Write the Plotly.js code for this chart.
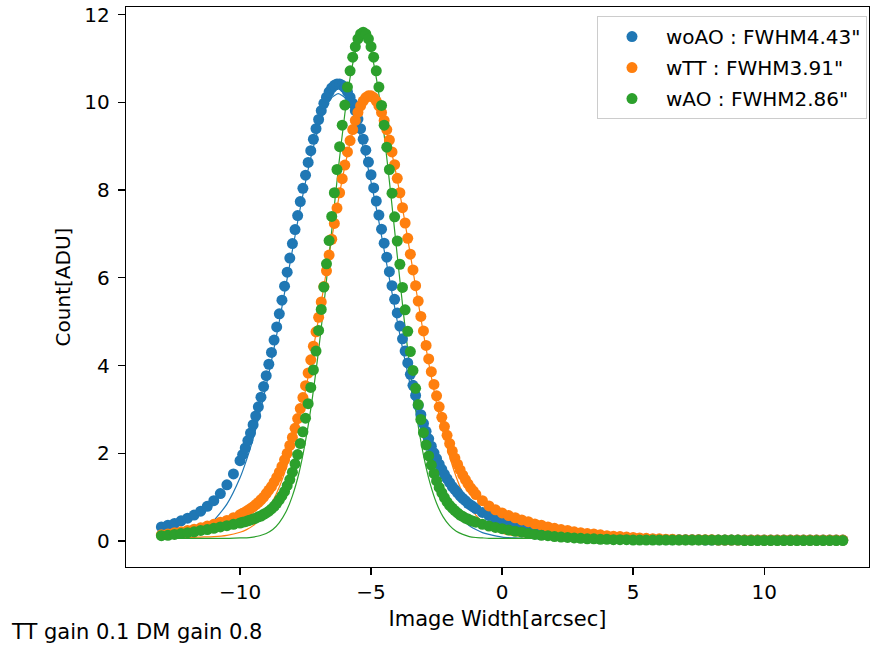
<!DOCTYPE html>
<html>
<head>
<meta charset="utf-8">
<script src="https://cdn.plot.ly/plotly-3.0.1.min.js"></script>
<style>
  html, body { margin: 0; padding: 0; background: #ffffff; }
  #chart { width: 871px; height: 647px; }
</style>
</head>
<body>
<div id="chart"></div>
<script>
// ---- data ----
const seriesNames = ['woAO : FWHM4.43"', 'wTT : FWHM3.91"', 'wAO : FWHM2.86"'];
const seriesColors = ['#1f77b4', '#ff7f0e', '#2ca02c'];

const widthArcsec = [
  -13, -12.75, -12.5, -12.25, -12, -11.75, -11.5, -11.25, -11, -10.75, -10.5, -10.25,
  -10, -9.9, -9.8, -9.7, -9.6, -9.5, -9.4, -9.3, -9.2, -9.1,
  -9, -8.9, -8.8, -8.7, -8.6, -8.5, -8.4, -8.3, -8.2, -8.1,
  -8, -7.9, -7.8, -7.7, -7.6, -7.5, -7.4, -7.3, -7.2, -7.1,
  -7, -6.9, -6.8, -6.7, -6.6, -6.5, -6.4, -6.3, -6.2, -6.1,
  -6, -5.9, -5.8, -5.7, -5.6, -5.5, -5.4, -5.3, -5.2, -5.1,
  -5, -4.9, -4.8, -4.7, -4.6, -4.5, -4.4, -4.3, -4.2, -4.1,
  -4, -3.9, -3.8, -3.7, -3.6, -3.5, -3.4, -3.3, -3.2, -3.1,
  -3, -2.9, -2.8, -2.7, -2.6, -2.5, -2.4, -2.3, -2.2, -2.1,
  -2, -1.9, -1.8, -1.7, -1.6, -1.5, -1.4, -1.3, -1.2, -1.1,
  -1,
  -0.75, -0.5, -0.25, 0, 0.25, 0.5, 0.75, 1, 1.25, 1.5, 1.75, 2, 2.25, 2.5,
  2.75, 3, 3.25, 3.5, 3.75, 4, 4.25, 4.5, 4.75, 5, 5.25, 5.5, 5.75, 6,
  6.25, 6.5, 6.75, 7, 7.25, 7.5, 7.75, 8, 8.25, 8.5, 8.75, 9, 9.25, 9.5,
  9.75, 10, 10.25, 10.5, 10.75, 11, 11.25, 11.5, 11.75, 12, 12.25, 12.5, 12.75, 13
];

const countWoAO = [
  0.32, 0.36, 0.40, 0.46, 0.52, 0.59, 0.68, 0.79, 0.92, 1.08, 1.28, 1.53,
  1.83, 1.97, 2.12, 2.29, 2.46, 2.65, 2.85, 3.06, 3.28, 3.52,
  3.77, 4.03, 4.30, 4.58, 4.88, 5.18, 5.49, 5.81, 6.13, 6.45,
  6.78, 7.10, 7.42, 7.74, 8.04, 8.34, 8.63, 8.90, 9.16, 9.40,
  9.61, 9.81, 9.98, 10.12, 10.24, 10.33, 10.39, 10.42, 10.42, 10.39,
  10.33, 10.24, 10.12, 9.98, 9.81, 9.62, 9.40, 9.16, 8.91, 8.64,
  8.35, 8.05, 7.75, 7.43, 7.11, 6.79, 6.47, 6.14, 5.82, 5.51,
  5.20, 4.90, 4.61, 4.33, 4.06, 3.80, 3.55, 3.32, 3.09, 2.88,
  2.68, 2.50, 2.33, 2.16, 2.01, 1.88, 1.75, 1.63, 1.52, 1.42,
  1.33, 1.24, 1.17, 1.10, 1.03, 0.97, 0.92, 0.86, 0.82, 0.78,
  0.74,
  0.65, 0.58, 0.51, 0.46, 0.41, 0.37, 0.33, 0.29, 0.26, 0.23, 0.20, 0.18, 0.16, 0.14,
  0.12, 0.11, 0.10, 0.09, 0.08, 0.07, 0.06, 0.06, 0.05, 0.05, 0.04, 0.04, 0.04, 0.03,
  0.03, 0.03, 0.03, 0.03, 0.03, 0.03, 0.02, 0.02, 0.02, 0.02, 0.02, 0.02, 0.02, 0.02,
  0.02, 0.02, 0.02, 0.02, 0.02, 0.02, 0.02, 0.02, 0.02, 0.02, 0.02, 0.02, 0.02, 0.02
];

const countWTT = [
  0.14, 0.16, 0.19, 0.21, 0.24, 0.27, 0.30, 0.34, 0.38, 0.43, 0.47, 0.53,
  0.60, 0.63, 0.66, 0.70, 0.74, 0.78, 0.83, 0.88, 0.94, 1.00,
  1.08, 1.16, 1.24, 1.34, 1.45, 1.57, 1.70, 1.85, 2.00, 2.18,
  2.36, 2.57, 2.79, 3.02, 3.27, 3.54, 3.83, 4.13, 4.44, 4.77,
  5.10, 5.45, 5.80, 6.16, 6.52, 6.88, 7.24, 7.59, 7.94, 8.26,
  8.57, 8.87, 9.13, 9.38, 9.59, 9.77, 9.92, 10.03, 10.11, 10.15,
  10.15, 10.11, 10.03, 9.92, 9.77, 9.59, 9.38, 9.14, 8.87, 8.58,
  8.27, 7.94, 7.60, 7.25, 6.90, 6.54, 6.18, 5.82, 5.47, 5.12,
  4.79, 4.46, 4.15, 3.86, 3.57, 3.31, 3.06, 2.82, 2.61, 2.41,
  2.22, 2.05, 1.89, 1.75, 1.62, 1.50, 1.40, 1.30, 1.21, 1.14,
  1.06,
  0.92, 0.80, 0.71, 0.64, 0.58, 0.53, 0.48, 0.44, 0.39, 0.36, 0.32, 0.29, 0.26, 0.24,
  0.21, 0.19, 0.17, 0.16, 0.14, 0.12, 0.11, 0.10, 0.09, 0.08, 0.07, 0.06, 0.05, 0.05,
  0.04, 0.04, 0.03, 0.03, 0.03, 0.03, 0.03, 0.03, 0.02, 0.02, 0.02, 0.02, 0.02, 0.02,
  0.02, 0.02, 0.02, 0.02, 0.02, 0.02, 0.02, 0.02, 0.02, 0.02, 0.02, 0.02, 0.02, 0.02
];

const countWAO = [
  0.12, 0.13, 0.15, 0.17, 0.19, 0.21, 0.24, 0.26, 0.29, 0.32, 0.35, 0.38,
  0.41, 0.43, 0.44, 0.46, 0.48, 0.50, 0.52, 0.55, 0.57, 0.61,
  0.64, 0.68, 0.73, 0.79, 0.86, 0.94, 1.03, 1.13, 1.26, 1.40,
  1.57, 1.76, 1.97, 2.22, 2.49, 2.80, 3.13, 3.50, 3.90, 4.33,
  4.80, 5.28, 5.79, 6.32, 6.85, 7.40, 7.94, 8.47, 8.99, 9.48,
  9.94, 10.35, 10.72, 11.03, 11.27, 11.45, 11.56, 11.60, 11.56, 11.45,
  11.27, 11.03, 10.72, 10.35, 9.93, 9.48, 8.98, 8.47, 7.93, 7.39,
  6.84, 6.31, 5.78, 5.27, 4.78, 4.32, 3.89, 3.48, 3.11, 2.77,
  2.47, 2.19, 1.94, 1.73, 1.54, 1.37, 1.22, 1.10, 0.99, 0.89,
  0.81, 0.75, 0.69, 0.64, 0.59, 0.56, 0.52, 0.50, 0.47, 0.45,
  0.43,
  0.38, 0.34, 0.31, 0.28, 0.25, 0.22, 0.20, 0.17, 0.15, 0.13, 0.12, 0.10, 0.09, 0.08,
  0.07, 0.06, 0.05, 0.05, 0.04, 0.04, 0.03, 0.03, 0.03, 0.02, 0.02, 0.02, 0.02, 0.02,
  0.02, 0.02, 0.02, 0.02, 0.02, 0.02, 0.02, 0.02, 0.02, 0.02, 0.02, 0.02, 0.01, 0.01,
  0.01, 0.01, 0.01, 0.01, 0.01, 0.01, 0.01, 0.01, 0.01, 0.01, 0.01, 0.01, 0.01, 0.01
];

// fitted profiles (thin lines)
const fitWidth = [
  -13, -12.5, -12, -11.5, -11, -10.5,
  -10, -9.75, -9.5, -9.25, -9, -8.75, -8.5, -8.25, -8, -7.75, -7.5, -7.25, -7,
  -6.75, -6.5, -6.25, -6, -5.75, -5.5, -5.25, -5, -4.75, -4.5, -4.25, -4,
  -3.75, -3.5, -3.25, -3, -2.75, -2.5, -2.25, -2, -1.75, -1.5, -1.25, -1, -0.75, -0.5,
  0, 0.5, 1, 1.5, 2, 3, 4, 6, 8, 10, 13
];
const fitWoAO = [
  0.07, 0.09, 0.15, 0.26, 0.47, 0.84,
  1.44, 1.85, 2.33, 2.90, 3.54, 4.25, 5.01, 5.82, 6.63, 7.44, 8.19, 8.86, 9.42,
  9.85, 10.11, 10.20, 10.11, 9.85, 9.42, 8.86, 8.19, 7.44, 6.63, 5.82, 5.01,
  4.25, 3.54, 2.90, 2.33, 1.85, 1.44, 1.11, 0.84, 0.63, 0.47, 0.35, 0.26, 0.19, 0.15,
  0.09, 0.07, 0.06, 0.05, 0.05, 0.05, 0.05, 0.05, 0.05, 0.05, 0.05
];
const fitWTT = [
  0.08, 0.08, 0.08, 0.09, 0.10, 0.13,
  0.20, 0.26, 0.35, 0.49, 0.67, 0.91, 1.23, 1.64, 2.14, 2.74, 3.44, 4.22, 5.08,
  5.98, 6.89, 7.76, 8.54, 9.20, 9.69, 9.98, 10.05, 9.89, 9.52, 8.96, 8.24,
  7.42, 6.53, 5.62, 4.73, 3.90, 3.14, 2.48, 1.92, 1.46, 1.09, 0.81, 0.59, 0.43, 0.31,
  0.18, 0.12, 0.09, 0.08, 0.08, 0.08, 0.08, 0.08, 0.08, 0.08, 0.08
];
const fitWAO = [
  0.06, 0.06, 0.06, 0.06, 0.06, 0.06,
  0.07, 0.07, 0.09, 0.12, 0.17, 0.26, 0.42, 0.66, 1.03, 1.55, 2.28, 3.21, 4.35,
  5.66, 7.08, 8.48, 9.74, 10.73, 11.34, 11.48, 11.15, 10.38, 9.26, 7.93, 6.51,
  5.12, 3.87, 2.81, 1.96, 1.32, 0.86, 0.55, 0.35, 0.22, 0.15, 0.10, 0.08, 0.07, 0.06,
  0.06, 0.06, 0.06, 0.06, 0.06, 0.06, 0.06, 0.06, 0.06, 0.06, 0.06
];

const xTickVals = [-10, -5, 0, 5, 10];
const yTickVals = [0, 2, 4, 6, 8, 10, 12];
const noteText = 'TT gain 0.1 DM gain 0.8';

// ---- build the figure ----
const FONT = 'DejaVu Sans, Liberation Sans, sans-serif';
const counts = [countWoAO, countWTT, countWAO];
const fits = [fitWoAO, fitWTT, fitWAO];

const traces = [];
fits.forEach((f, i) => {
  traces.push({
    type: 'scatter', mode: 'lines', x: fitWidth, y: f,
    line: { color: seriesColors[i], width: 1.2, shape: 'spline', smoothing: 0.6 },
    showlegend: false, hoverinfo: 'skip'
  });
});
counts.forEach((c, i) => {
  traces.push({
    type: 'scatter', mode: 'markers', x: widthArcsec, y: c,
    name: seriesNames[i], legendgroup: 'g' + i,
    marker: { color: seriesColors[i], size: 11, line: { width: 0 } }
  });
});

const axisCommon = {
  showgrid: false, zeroline: false,
  showline: true, mirror: true, linecolor: '#000', linewidth: 1.3,
  ticks: 'outside', ticklen: 7, tickwidth: 1.3, tickcolor: '#000',
  tickfont: { family: FONT, size: 20, color: '#000' }
};

const layout = {
  width: 871, height: 647,
  margin: { l: 126, r: 2, t: 7, b: 80, pad: 0 },
  paper_bgcolor: '#ffffff', plot_bgcolor: '#ffffff',
  font: { family: FONT, size: 20, color: '#000' },
  xaxis: Object.assign({}, axisCommon, {
    range: [-14.35, 14.0], tickvals: xTickVals,
    title: { text: 'Image Width[arcsec]', font: { family: FONT, size: 21, color: '#000' }, standoff: 8 }
  }),
  yaxis: Object.assign({}, axisCommon, {
    range: [-0.593, 12.175], tickvals: yTickVals, ticklabelstandoff: 4,
    title: { text: 'Count[ADU]', font: { family: FONT, size: 20, color: '#000' }, standoff: 8 }
  }),
  legend: {
    x: 0.9973, xanchor: 'right', y: 0.9839, yanchor: 'top',
    bgcolor: 'rgba(255,255,255,0.8)', bordercolor: '#cccccc', borderwidth: 1,
    font: { family: FONT, size: 20, color: '#000' },
    tracegroupgap: 2, itemwidth: 58
  },
  annotations: [{
    text: noteText, xref: 'paper', yref: 'paper',
    x: -0.1575, y: -0.116, xanchor: 'left', yanchor: 'middle',
    showarrow: false, font: { family: FONT, size: 21, color: '#000' }
  }]
};

Plotly.newPlot('chart', traces, layout, { displayModeBar: false, staticPlot: true });
</script>
</body>
</html>
